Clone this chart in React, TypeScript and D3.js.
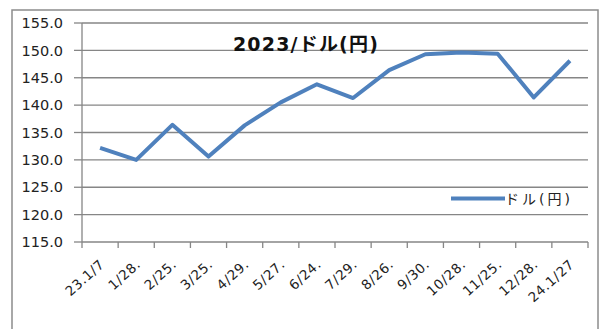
import React from "react";
import * as d3 from "d3";

const categories = ["23.1/7", "1/28.", "2/25.", "3/25.", "4/29.", "5/27.", "6/24.", "7/29.", "8/26.", "9/30.", "10/28.", "11/25.", "12/28.", "24.1/27"];
const values = [132.2, 130.0, 136.4, 130.6, 136.3, 140.5, 143.8, 141.3, 146.4, 149.3, 149.6, 149.4, 141.4, 148.1];
const yTicks = [115, 120, 125, 130, 135, 140, 145, 150, 155];
const title = "2023/ドル(円)";
const seriesName = "ドル(円)";

const W = 606, H = 329;
const plot = { left: 82, right: 588, top: 23, bottom: 242 };
const font = "'DejaVu Sans', 'Noto Sans CJK JP', sans-serif";

export default function App() {
  const x = d3.scaleBand<string>().domain(categories).range([plot.left, plot.right]);
  const y = d3.scaleLinear().domain([115, 155]).range([plot.bottom, plot.top]);
  const line = d3.line<number>()
    .x((_, i) => (x(categories[i]) as number) + x.bandwidth() / 2)
    .y((v) => y(v));
  const tickXs = categories.map((c) => x(c) as number).concat([plot.right]);
  return (
    <svg width={W} height={H} style={{ position: "absolute", left: 0, top: 0, background: "#fff" }}>
      <rect x={12} y={10} width={586} height={330} fill="#fff" stroke="#8c8c8c" strokeWidth={1.5} />
      {yTicks.map((t) => (
        <g key={t}>
          <line x1={plot.left} x2={plot.right} y1={y(t)} y2={y(t)} stroke="#868686" strokeWidth={1.3} />
          <line x1={plot.left - 8} x2={plot.left} y1={y(t)} y2={y(t)} stroke="#868686" strokeWidth={1.3} />
          <text x={63} y={y(t)} dy="0.36em" textAnchor="end" fontFamily={font} fontSize={14.5} fill="#222">{t.toFixed(1)}</text>
        </g>
      ))}
      <line x1={plot.left} x2={plot.left} y1={plot.top} y2={plot.bottom} stroke="#868686" strokeWidth={1.3} />
      {tickXs.map((tx, i) => (
        <line key={i} x1={tx} x2={tx} y1={plot.bottom} y2={plot.bottom + 6} stroke="#868686" strokeWidth={1.3} />
      ))}
      {categories.map((c) => {
        const cx = (x(c) as number) + x.bandwidth() / 2 + 2;
        const cy = plot.bottom + 20;
        return (
          <text key={c} x={cx} y={cy} transform={`rotate(-42 ${cx} ${cy})`} textAnchor="end" dy="0.35em" fontFamily={font} fontSize={13.5} letterSpacing={0.6} fill="#222">{c}</text>
        );
      })}
      <path d={line(values) || ""} fill="none" stroke="#4f81bd" strokeWidth={4} strokeLinejoin="round" />
      <text x={306} y={44.5} dy="0.36em" textAnchor="middle" fontFamily={font} fontSize={19} fontWeight="bold" letterSpacing={1.2} fill="#111">{title}</text>
      <line x1={451} x2={505} y1={198.5} y2={198.5} stroke="#4f81bd" strokeWidth={4} />
      <text x={505} y={199} dy="0.36em" fontFamily={font} fontSize={14} letterSpacing={3} fill="#222">{seriesName}</text>
    </svg>
  );
}
